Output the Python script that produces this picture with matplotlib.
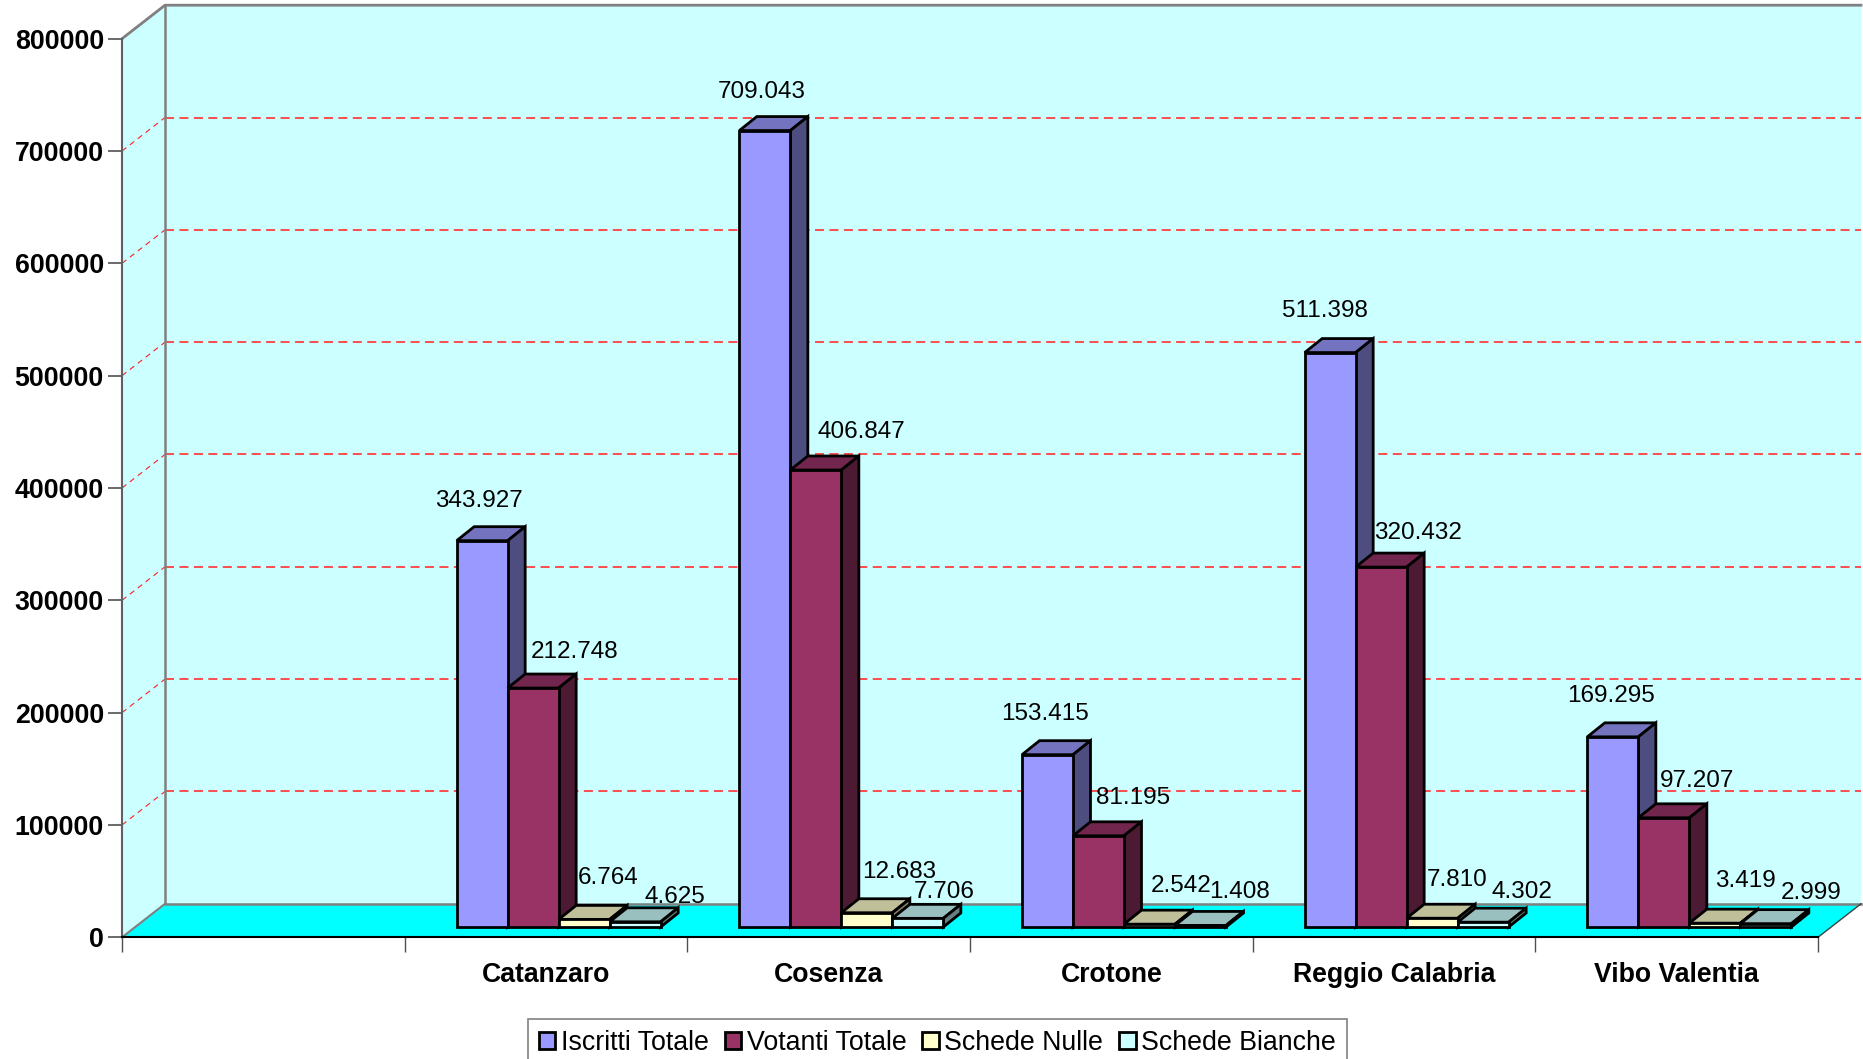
import matplotlib
matplotlib.use('Agg')
import matplotlib.pyplot as plt
from matplotlib.patches import Polygon, Patch

plt.rcParams['font.family'] = ['Liberation Sans', 'DejaVu Sans']

# data
categories = ['', 'Catanzaro', 'Cosenza', 'Crotone', 'Reggio Calabria', 'Vibo Valentia']
iscritti = [343927, 709043, 153415, 511398, 169295]
votanti = [212748, 406847, 81195, 320432, 97207]
nulle = [6764, 12683, 2542, 7810, 3419]
bianche = [4625, 7706, 1408, 4302, 2999]
series = [iscritti, votanti, nulle, bianche]
series_names = ['Iscritti Totale', 'Votanti Totale', 'Schede Nulle', 'Schede Bianche']
y_ticks = [0, 100000, 200000, 300000, 400000, 500000, 600000, 700000, 800000]

# colours: front, top, side
front_colors = ['#9999FF', '#993366', '#FFFFCC', '#CCFFFF']
top_colors = ['#7373BF', '#73264D', '#BFBF99', '#99BFBF']
side_colors = ['#4D4D80', '#4D1A33', '#808066', '#668080']

# value label offsets in pixels, from bar centre and from top of the bar's back edge
label_dx = [[-3, -3, -2.5, -5, -1.5], [41, 46, 35, 37, 33], [24, 32, 32, 25, 31], [40, 26, 39, 39, 45]]
label_dy = [[26, 25, 27, 28, 27], [22, 24, 24, 20, 23], [27, 27, 24, 24, 28], [11, 12, 19, 16, 17]]

fig = plt.figure(figsize=(18.63, 10.59), dpi=100)
ax = fig.add_axes([122 / 1863, 1 - 937.3 / 1059, 1696 / 1863, 898.6 / 1059])
ax.set_xlim(0, 6)
ax.set_ylim(0, 800000)
ax.patch.set_visible(False)

# pixel sizes in data units
px_x = 6 / 1696
px_y = 800000 / 898.6
wall_dx = 43 * px_x
wall_dy = 33.5 * px_y
base_dx = 52 * px_x
base_dy = 10.3 * px_y
bar_w = 51 * px_x
bar_dx = 17.5 * px_x
bar_dy = 14 * px_y


def poly(pts, fc, ec='none', lw=0, z=1):
    ax.add_patch(Polygon(pts, closed=True, facecolor=fc, edgecolor=ec, linewidth=lw,
                         zorder=z, clip_on=False, joinstyle='miter'))


# walls and floor
poly([(0, 0), (wall_dx, wall_dy), (wall_dx, 800000 + wall_dy), (0, 800000)], '#CCFFFF')
poly([(wall_dx, wall_dy), (6 + wall_dx, wall_dy), (6 + wall_dx, 800000 + wall_dy), (wall_dx, 800000 + wall_dy)], '#CCFFFF')
poly([(0, 0), (wall_dx, wall_dy), (6 + wall_dx, wall_dy), (6, 0)], '#00FFFF')

# gridlines
for v in y_ticks[1:-1]:
    ax.plot([wall_dx, 6 + wall_dx], [v + wall_dy, v + wall_dy], color='#FF4040', lw=1.3,
            dashes=(5, 3), zorder=2, clip_on=False)
    ax.plot([0, wall_dx], [v, v + wall_dy], color='#FF2020', lw=0.8,
            dashes=(5, 4), zorder=2, clip_on=False)

# wall edges
gray = '#808080'
ax.plot([0, wall_dx, 6 + wall_dx], [800000, 800000 + wall_dy, 800000 + wall_dy], color=gray, lw=2, zorder=3, clip_on=False)
ax.plot([wall_dx, wall_dx, 6 + wall_dx], [800000 + wall_dy, wall_dy, wall_dy], color=gray, lw=1.8, zorder=3, clip_on=False)
ax.plot([0, wall_dx], [0, wall_dy], color=gray, lw=1.5, zorder=3, clip_on=False)
ax.plot([6, 6 + wall_dx], [0, wall_dy], color='#404040', lw=1, zorder=3, clip_on=False)

# bars
z = 5
for i in range(1, len(categories)):
    for s in range(len(series)):
        v = series[s][i - 1]
        x0 = i + base_dx + s * bar_w
        x1 = x0 + bar_w
        y0 = base_dy
        y1 = base_dy + v
        poly([(x0, y1), (x1, y1), (x1 + bar_dx, y1 + bar_dy), (x0 + bar_dx, y1 + bar_dy)],
             top_colors[s], 'black', 2, z)
        poly([(x1, y0), (x1 + bar_dx, y0 + bar_dy), (x1 + bar_dx, y1 + bar_dy), (x1, y1)],
             side_colors[s], 'black', 2, z)
        poly([(x0, y0), (x1, y0), (x1, y1), (x0, y1)], front_colors[s], 'black', 2, z)
        z += 1

# value labels
for s in range(len(series)):
    for i in range(1, len(categories)):
        v = series[s][i - 1]
        xc = i + base_dx + (s + 0.5) * bar_w
        yt = base_dy + v + bar_dy
        txt = f'{v:,}'.replace(',', '.')
        ax.annotate(txt, (xc, yt), xytext=(label_dx[s][i - 1], label_dy[s][i - 1]),
                    textcoords='offset pixels', ha='center', va='center',
                    fontsize=17.5, color='black', zorder=50, annotation_clip=False)

# axes
for name in ['top', 'right']:
    ax.spines[name].set_visible(False)
ax.spines['left'].set_color('#606060')
ax.spines['left'].set_linewidth(1.5)
ax.spines['bottom'].set_color('black')
ax.spines['bottom'].set_linewidth(1.5)
ax.spines['left'].set_zorder(4)
ax.spines['bottom'].set_zorder(4)

ax.set_yticks(y_ticks)
ax.set_yticklabels([str(v) for v in y_ticks], fontsize=19.3, fontweight='bold')
ax.tick_params(axis='y', length=10, width=1.2, color='#505050', pad=3)

ax.set_xticks(range(7))
ax.set_xticklabels([''] * 7)
ax.tick_params(axis='x', which='major', length=11, width=1, color='#505050')
ax.set_xticks([i + 0.5 for i in range(6)], minor=True)
ax.set_xticklabels(categories, minor=True, fontsize=19.2, fontweight='bold')
ax.tick_params(axis='x', which='minor', length=0, pad=18)

# legend
handles = [Patch(facecolor=c, edgecolor='black', linewidth=2) for c in front_colors]
leg = fig.legend(handles, series_names, ncol=4, loc='upper left',
                 bbox_to_anchor=(528 / 1863, 1 - 1019 / 1059), fontsize=19.3,
                 fancybox=False, framealpha=1, edgecolor=gray, borderaxespad=0,
                 handlelength=0.62, handleheight=0.62, handletextpad=0.2,
                 columnspacing=0.6, borderpad=0.4)
leg.get_frame().set_linewidth(1.2)

fig.savefig('out.png', dpi=100)
